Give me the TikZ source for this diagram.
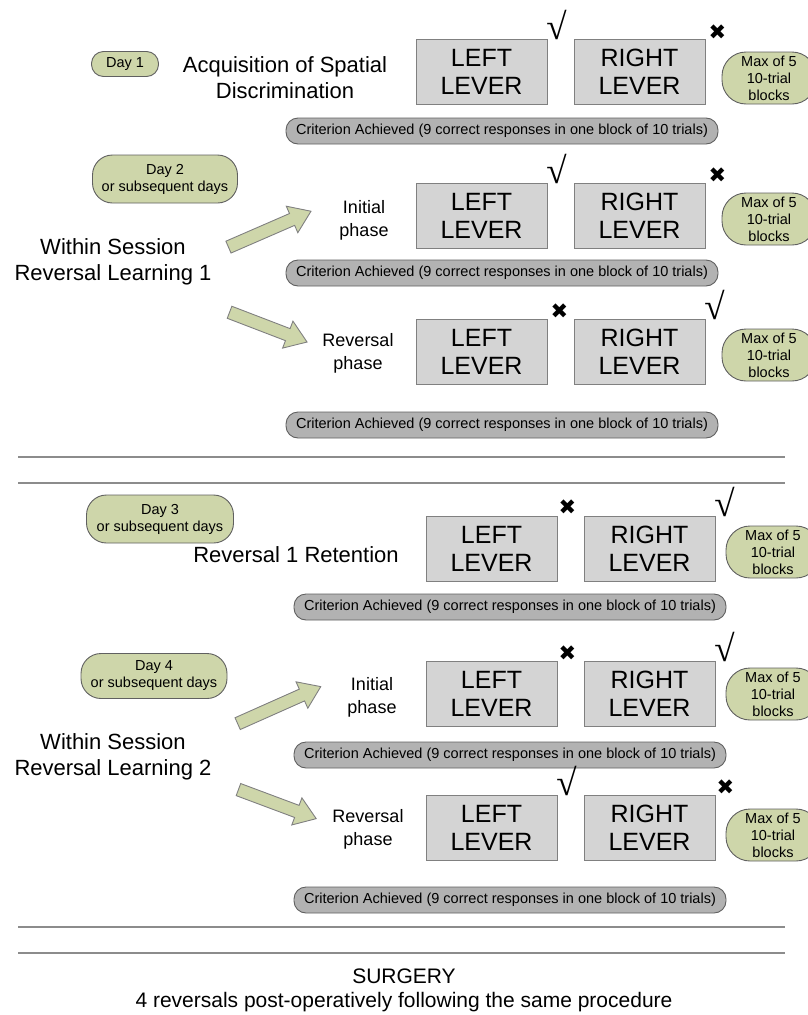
\documentclass[tikz,border=0pt]{standalone}
\usepackage{fontspec}
\setmainfont{Liberation Sans}
\newfontfamily\symfont{DejaVu Sans}
\newfontfamily\radfont{Liberation Serif}
\usetikzlibrary{positioning,shapes.arrows}

\definecolor{daygreen}{RGB}{206,214,170}
\definecolor{levergray}{RGB}{212,212,212}
\definecolor{critgray}{RGB}{178,178,178}
\definecolor{edgegray}{RGB}{96,96,96}
\definecolor{rulegray}{RGB}{140,140,140}

\newcommand{\crittext}{Criterion Achieved (9 correct responses in one block of 10 trials)}
\newcommand{\okglyph}{{\radfont √}}
\newcommand{\noglyph}{{\symfont ✖}}

\tikzset{
  daybox/.style={draw=edgegray, fill=daygreen, line width=0.9pt, align=center,
    inner sep=0pt, font=\fontsize{14.5}{17}\selectfont},
  lever/.style={draw=gray, fill=levergray, line width=1pt, minimum width=131pt,
    minimum height=65pt, align=center, inner sep=0pt, font=\fontsize{25}{28}\selectfont},
  maxbox/.style={daybox, minimum width=94pt, minimum height=52pt, rounded corners=24pt},
  crit/.style={draw=edgegray, fill=critgray, line width=0.9pt, minimum width=432pt,
    minimum height=26pt, inner sep=0pt, rounded corners=12pt, font=\fontsize{14.5}{17}\selectfont},
  title/.style={align=center, font=\fontsize{22}{26}\selectfont},
  phase/.style={align=center, font=\fontsize{18}{23}\selectfont},
  okmark/.style={inner sep=0pt, font=\fontsize{37}{37}\selectfont},
  nomark/.style={inner sep=0pt, font=\fontsize{21}{21}\selectfont},
  bigarrow/.style={single arrow, draw=gray, fill=daygreen, line width=0.9pt,
    minimum width=28pt, single arrow head extend=8pt, single arrow head indent=0pt,
    single arrow tip angle=70, inner xsep=0pt, inner ysep=6pt},
  sepline/.style={draw=rulegray, line width=1.8pt}
}

\begin{document}
\begin{tikzpicture}[x=1pt, y=-1pt]
\useasboundingbox (0,0) rectangle (808,1015);
\clip (0,0) rectangle (808,1015);

% acquisition
\node[daybox, minimum width=67pt, minimum height=25pt, rounded corners=12pt] (day1) at (125,64) {Day 1};
\node[title] (task1) at (285,78) {Acquisition of Spatial\\Discrimination};
\node[lever] (left1) at (481.5,72) {LEFT\\LEVER};
\node[lever, right=26pt of left1] (right1) {RIGHT\\LEVER};
\node[okmark] (ok1) at ([shift={(9,-14)}]left1.north east) {\okglyph};
\node[nomark] (no1) at ([shift={(12,-7)}]right1.north east) {\noglyph};
\node[maxbox] (max1) at (769,78) {Max of 5\\10-trial\\blocks};
\node[crit] (crit1) at (502,131) {\crittext};

% reversal learning 1
\node[daybox, minimum width=145pt, minimum height=48pt, rounded corners=20pt] (day2) at (165,179) {Day 2\\or subsequent days};
\node[title] (within1) at (113,262) {Within Session\\Reversal Learning 1};
\node[bigarrow, minimum height=90pt, rotate=23.5] (up1) at (265.5,231) {};
\node[bigarrow, minimum height=83pt, rotate=-21] (down1) at (264,325.5) {};

\node[phase] (init1) at (364,220) {Initial\\phase};
\node[lever] (left2) at (481.5,215.5) {LEFT\\LEVER};
\node[lever, right=26pt of left2] (right2) {RIGHT\\LEVER};
\node[okmark] (ok2) at ([shift={(9,-14)}]left2.north east) {\okglyph};
\node[nomark] (no2) at ([shift={(12,-7)}]right2.north east) {\noglyph};
\node[maxbox] (max2) at (769,219) {Max of 5\\10-trial\\blocks};
\node[crit] (crit2) at (502,273) {\crittext};

\node[phase] (rev1) at (358,353) {Reversal\\phase};
\node[lever] (left3) at (481.5,351.5) {LEFT\\LEVER};
\node[lever, right=26pt of left3] (right3) {RIGHT\\LEVER};
\node[nomark] (no3) at ([shift={(12,-7)}]left3.north east) {\noglyph};
\node[okmark] (ok3) at ([shift={(9,-14)}]right3.north east) {\okglyph};
\node[maxbox] (max3) at (769,355) {Max of 5\\10-trial\\blocks};
\node[crit] (crit3) at (502,425) {\crittext};

\draw[sepline] (18,457) -- (785,457);
\draw[sepline] (18,483) -- (785,483);

% retention
\node[daybox, minimum width=147pt, minimum height=48pt, rounded corners=20pt] (day3) at (160,519) {Day 3\\or subsequent days};
\node[title] (task3) at (296,555) {Reversal 1 Retention};
\node[lever] (left4) at (491.5,548.5) {LEFT\\LEVER};
\node[lever, right=26pt of left4] (right4) {RIGHT\\LEVER};
\node[nomark] (no4) at ([shift={(10,-8)}]left4.north east) {\noglyph};
\node[okmark] (ok4) at ([shift={(9,-14)}]right4.north east) {\okglyph};
\node[maxbox] (max4) at (773,552) {Max of 5\\10-trial\\blocks};
\node[crit] (crit4) at (510,607) {\crittext};

% reversal learning 2
\node[daybox, minimum width=146pt, minimum height=45pt, rounded corners=20pt] (day4) at (154,676) {Day 4\\or subsequent days};
\node[title] (within2) at (113,757) {Within Session\\Reversal Learning 2};
\node[bigarrow, minimum height=91pt, rotate=24] (up2) at (275,707) {};
\node[bigarrow, minimum height=83pt, rotate=-20.5] (down2) at (273,802.5) {};

\node[phase] (init2) at (372,697) {Initial\\phase};
\node[lever] (left5) at (491.5,694) {LEFT\\LEVER};
\node[lever, right=26pt of left5] (right5) {RIGHT\\LEVER};
\node[nomark] (no5) at ([shift={(10,-8)}]left5.north east) {\noglyph};
\node[okmark] (ok5) at ([shift={(9,-14)}]right5.north east) {\okglyph};
\node[maxbox] (max5) at (773,694) {Max of 5\\10-trial\\blocks};
\node[crit] (crit5) at (510,755) {\crittext};

\node[phase] (rev2) at (368,829) {Reversal\\phase};
\node[lever] (left6) at (491.5,828) {LEFT\\LEVER};
\node[lever, right=26pt of left6] (right6) {RIGHT\\LEVER};
\node[okmark] (ok6) at ([shift={(9,-14)}]left6.north east) {\okglyph};
\node[nomark] (no6) at ([shift={(10,-8)}]right6.north east) {\noglyph};
\node[maxbox] (max6) at (773,835) {Max of 5\\10-trial\\blocks};
\node[crit] (crit6) at (510,900) {\crittext};

\draw[sepline] (18,927) -- (785,927);
\draw[sepline] (18,953) -- (785,953);

\node[title, font=\fontsize{21}{24}\selectfont] (surgery) at (404,990) {SURGERY\\4 reversals post-operatively following the same procedure};
\end{tikzpicture}
\end{document}
